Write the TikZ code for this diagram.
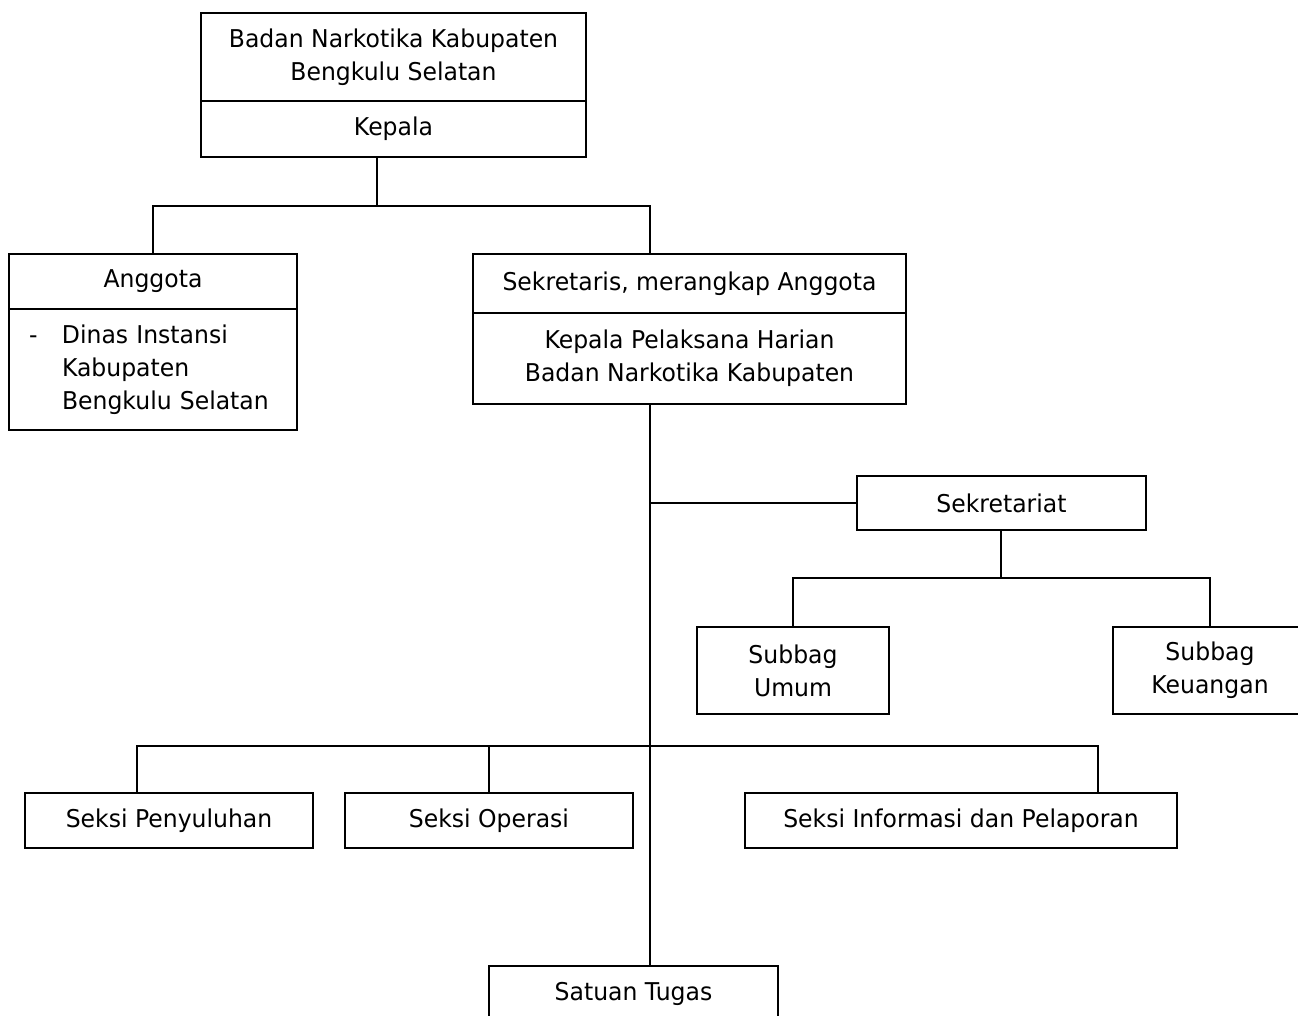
\documentclass[tikz,border=0pt]{standalone}
\usepackage{fontspec}
\setmainfont{DejaVu Sans}[FakeStretch=0.96]
\begin{document}
\begin{tikzpicture}[x=1pt,y=-1pt,
  unit/.style={draw,line width=1.4pt,inner sep=0pt,align=center,
    font=\fontsize{24.5}{33}\selectfont},
  link/.style={line width=1.4pt}]
  \useasboundingbox (0,0) rectangle (1298,1016);
  \clip (0,0) rectangle (1298,1016);
  % top
  \node[unit,minimum width=385pt,minimum height=88pt] (badan) at (393.5,57) {Badan Narkotika Kabupaten\\Bengkulu Selatan};
  \node[unit,minimum width=385pt,minimum height=56pt] (kepala) at (393.5,129) {Kepala};
  % second row
  \node[unit,minimum width=288pt,minimum height=55pt] (anggota) at (153,281.5) {Anggota};
  \node[unit,minimum width=288pt,minimum height=121pt,text width=248pt,inner xsep=20pt,align=left] (dinas) at (153,369.5)
    {\makebox[33pt][l]{-}Dinas Instansi\\\hspace*{33pt}Kabupaten\\\hspace*{33pt}Bengkulu Selatan};
  \node[unit,minimum width=433pt,minimum height=59pt] (sekretaris) at (689.5,283.5) {Sekretaris, merangkap Anggota};
  \node[unit,minimum width=433pt,minimum height=91pt] (harian) at (689.5,358.5) {Kepala Pelaksana Harian\\Badan Narkotika Kabupaten};
  % sekretariat
  \node[unit,minimum width=289pt,minimum height=54pt] (sekretariat) at (1001.5,503) {Sekretariat};
  \node[unit,minimum width=192pt,minimum height=87pt] (umum) at (793,670.5) {Subbag\\Umum};
  \node[unit,minimum width=194pt,minimum height=87pt] (keuangan) at (1210,670.5) {Subbag\\Keuangan};
  % seksi
  \node[unit,minimum width=288pt,minimum height=55pt] (penyuluhan) at (169,820.5) {Seksi Penyuluhan};
  \node[unit,minimum width=288pt,minimum height=55pt] (operasi) at (489,820.5) {Seksi Operasi};
  \node[unit,minimum width=432pt,minimum height=55pt] (informasi) at (961,820.5) {Seksi Informasi dan Pelaporan};
  \node[unit,minimum width=289pt,minimum height=55pt] (satuan) at (633.5,993.5) {Satuan Tugas};
  % lines
  \coordinate (topjoin) at (377,206);
  \coordinate (sekrjoin) at (650,206);
  \coordinate (subjoin) at (1001,578);
  \coordinate (seksileft) at (137,746);
  \coordinate (seksiright) at (1098,746);
  \draw[link] (kepala.south -| topjoin) -- (topjoin);
  \draw[link] (anggota.north) |- (sekrjoin) -- (sekrjoin |- sekretaris.north);
  \draw[link] (sekrjoin |- harian.south) -- (sekrjoin |- satuan.north);
  \draw[link] (sekrjoin |- sekretariat.west) -- (sekretariat.west);
  \draw[link] (sekretariat.south -| subjoin) -- (subjoin);
  \draw[link] (umum.north) |- (subjoin) -| (keuangan.north);
  \draw[link] (seksileft |- penyuluhan.north) -- (seksileft) -- (seksiright) -- (seksiright |- informasi.north);
  \draw[link] (operasi.north) -- (operasi.north |- seksileft);
\end{tikzpicture}
\end{document}
